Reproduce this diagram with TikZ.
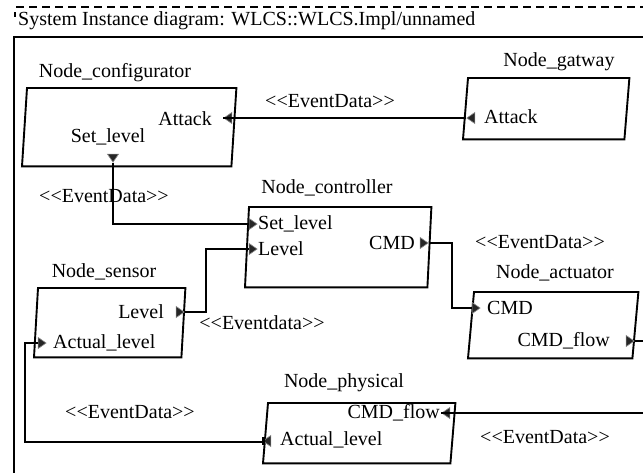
\documentclass[tikz,border=0pt]{standalone}
\usepackage{fontspec}
\setmainfont{Liberation Serif}
\usetikzlibrary{shapes.geometric}

\tikzset{
  lbl/.style={inner sep=0pt, font=\fontsize{20}{24}\selectfont},
  boxarea/.style={inner sep=0pt, minimum width=#1},
  blockedge/.style={line width=1.9pt, line join=miter},
  wire/.style={line width=1.9pt},
  frameline/.style={line width=2.4pt},
  port/.style={isosceles triangle, isosceles triangle apex angle=70,
    minimum height=8pt, inner sep=0pt, fill=black!85, draw=black!45,
    line width=0.6pt, shape border rotate=#1},
}

% parallelogram block: top corners at the node's north side, bottom shifted left
\newcommand{\slantblock}[2]{%
  \draw[blockedge] (#1.north west) -- (#1.north east)
    -- ([xshift=-#2pt]#1.south east) -- ([xshift=-#2pt]#1.south west) -- cycle;}
% stereotype brackets, kept as separate glyphs
\newcommand{\stereo}[1]{\textless\kern0pt\textless#1\textgreater\kern0pt\textgreater}

\begin{document}
\begin{tikzpicture}[x=1pt,y=-1pt]
\useasboundingbox (0,0) rectangle (643,472);
\clip (0,0) rectangle (643,472);
\fill[white] (0,0) rectangle (643,472);

% page frame
\draw[line width=1.2pt, dash pattern=on 8pt off 5pt] (16,7) -- (650,7);
\draw[line width=1.4pt] (15,12) -- (15,17);
\node[lbl, anchor=west] (title) at (18,21) {System Instance diagram: WLCS::WLCS.Impl/unnamed};
\draw[frameline] (14,480) -- (14,37) -- (650,37);

% block areas (named, drawn as parallelograms)
\node[boxarea=209pt, minimum height=78pt, anchor=north west] (cfg) at (27,88) {};
\node[boxarea=161pt, minimum height=61pt, anchor=north west] (gw)  at (468,78) {};
\node[boxarea=182pt, minimum height=80pt, anchor=north west] (ctl) at (249,207) {};
\node[boxarea=147pt, minimum height=69pt, anchor=north west] (sen) at (38,288) {};
\node[boxarea=164pt, minimum height=66pt, anchor=north west] (act) at (474,292) {};
\node[boxarea=187pt, minimum height=60pt, anchor=north west] (phy) at (268,403) {};
\slantblock{cfg}{5}
\slantblock{gw}{5}
\slantblock{ctl}{4}
\slantblock{sen}{4}
\slantblock{act}{6}
\slantblock{phy}{5}

% block titles
\node[lbl] (cfgT) at (115,73)  {Node\_configurator};
\node[lbl] (gwT)  at (559,62)  {Node\_gatway};
\node[lbl] (ctlT) at (327,188) {Node\_controller};
\node[lbl] (senT) at (104,272) {Node\_sensor};
\node[lbl] (actT) at (555,273) {Node\_actuator};
\node[lbl] (phyT) at (344,383) {Node\_physical};

% port names
\node[lbl, anchor=east] (cfgAttackT) at (212,119) {Attack};
\node[lbl]              (cfgSetT)    at (108,137) {Set\_level};
\node[lbl, anchor=west] (gwAttackT)  at (484,117) {Attack};
\node[lbl, anchor=west] (ctlSetT)    at (258,224) {Set\_level};
\node[lbl, anchor=west] (ctlLevelT)  at (258,249) {Level};
\node[lbl, anchor=east] (ctlCmdT)    at (415,243) {CMD};
\node[lbl, anchor=east] (senLevelT)  at (164,312) {Level};
\node[lbl, anchor=west] (senActT)    at (53,343)  {Actual\_level};
\node[lbl, anchor=west] (actCmdT)    at (487,308) {CMD};
\node[lbl, anchor=east] (actFlowT)   at (610,341) {CMD\_flow};
\node[lbl, anchor=east] (phyFlowT)   at (440,413) {CMD\_flow};
\node[lbl, anchor=west] (phyActT)    at (280,440) {Actual\_level};

% port symbols
\node[port=180] (cfgAttack) at (229,118) {};
\node[port=270] (cfgSet)    at (113,157) {};
\node[port=180] (gwAttack)  at (472,118) {};
\node[port=0]   (ctlSet)    at (252,224) {};
\node[port=0]   (ctlLevel)  at (252,249) {};
\node[port=0]   (ctlCmd)    at (423,243) {};
\node[port=0]   (senLevel)  at (179,312) {};
\node[port=0]   (senAct)    at (41,343)  {};
\node[port=0]   (actCmd)    at (475,308) {};
\node[port=0]   (actFlow)   at (629,341) {};
\node[port=180] (phyFlow)   at (447,413) {};
\node[port=180] (phyAct)    at (268,441) {};
\fill (262,437) rectangle (265,445);

% off-page bend of the CMD_flow connection
\coordinate (flowBend) at (660,377);

% connections
\draw[wire] (gwAttack.west) -- (cfgAttack.apex);
\draw[wire] (cfgSet.apex) |- (ctlSet.west);
\draw[wire] (senLevel.apex) -- ++(21,0) |- (ctlLevel.west);
\draw[wire] (ctlCmd.apex) -- ++(23,0) |- (actCmd.west);
\draw[wire] (actFlow.apex) -| (flowBend) |- (phyFlow.apex);
\draw[wire] (262,442) -- (25,442) |- (senAct.west);

% connection stereotypes
\node[lbl] (e1) at (330,101) {\stereo{EventData}};
\node[lbl] (e2) at (104,196) {\stereo{EventData}};
\node[lbl] (e3) at (262,323) {\stereo{Eventdata}};
\node[lbl] (e4) at (540,242) {\stereo{EventData}};
\node[lbl] (e5) at (130,412) {\stereo{EventData}};
\node[lbl] (e6) at (545,437) {\stereo{EventData}};
\end{tikzpicture}
\end{document}
